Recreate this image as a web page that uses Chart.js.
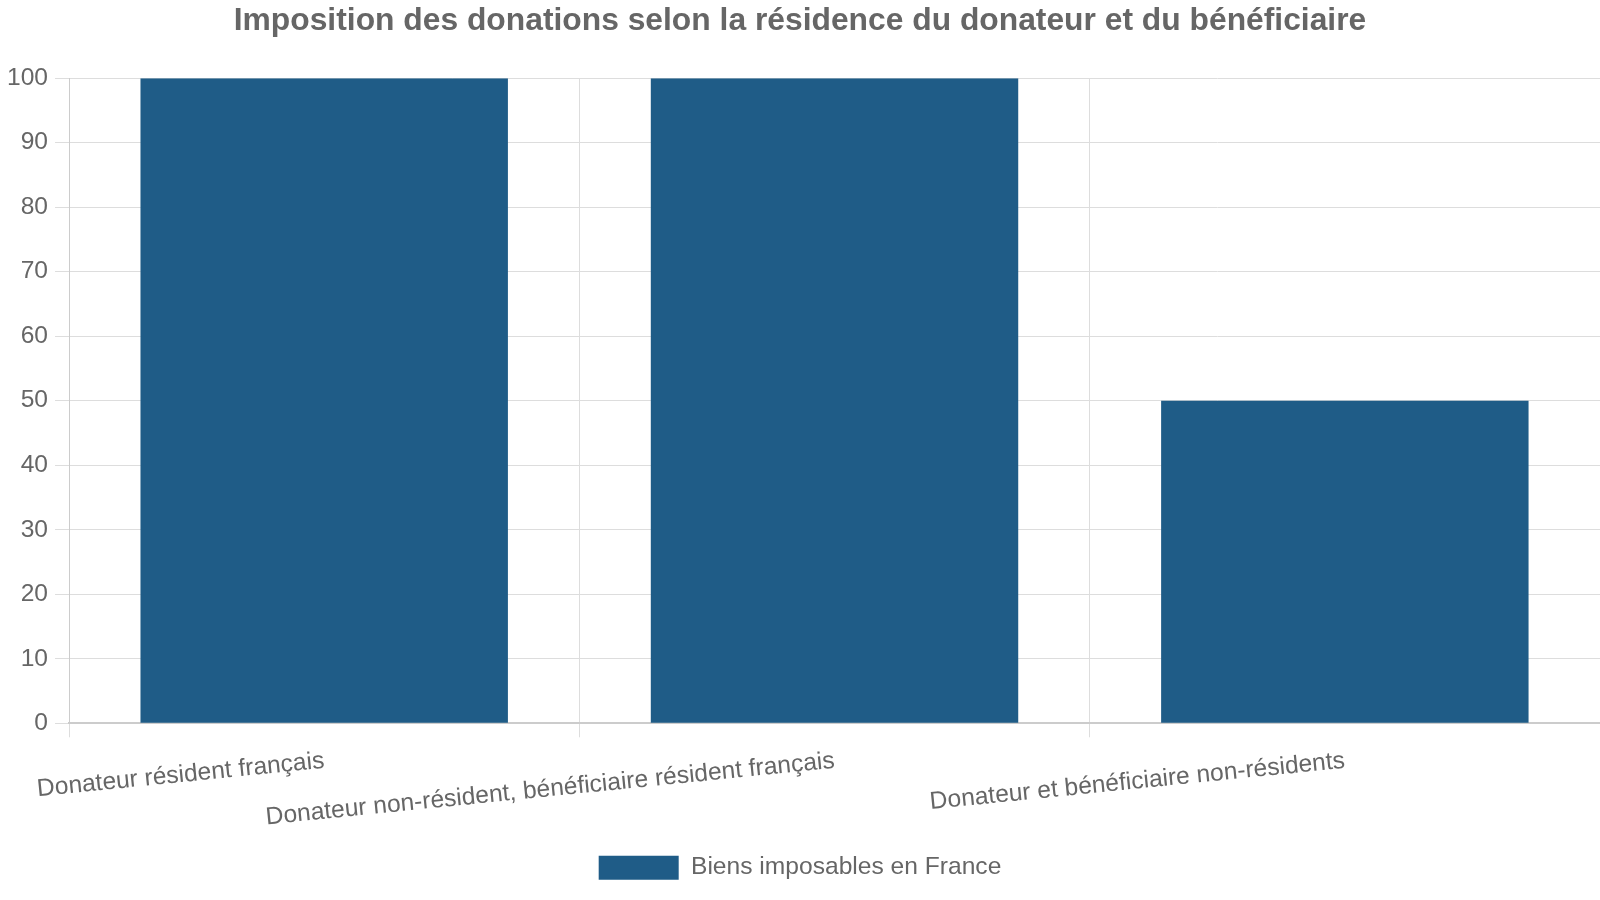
<!DOCTYPE html>
<html>
<head>
<meta charset="utf-8">
<script src="https://cdn.jsdelivr.net/npm/chart.js@4.4.0/dist/chart.umd.min.js"></script>
<style>
  html, body { margin: 0; padding: 0; background: #fff; }
  #wrap { width: 1600px; height: 900px; }
</style>
</head>
<body>
<div id="wrap"><canvas id="chart" width="1600" height="900"></canvas></div>
<script>
const categories = [
    'Donateur résident français',
    'Donateur non-résident, bénéficiaire résident français',
    'Donateur et bénéficiaire non-résidents'
];
const seriesLabel = 'Biens imposables en France';
const taxableShare = [100, 100, 50];
const yTicks = [0, 10, 20, 30, 40, 50, 60, 70, 80, 90, 100];

const textColor = '#666666';
const fontSize = 24.6;

const ctx = document.getElementById('chart').getContext('2d');

const chart = new Chart(ctx, {
    type: 'bar',
    data: {
        labels: categories,
        datasets: [
            {
                label: seriesLabel,
                data: taxableShare,
                backgroundColor: '#1f5c87',
                borderWidth: 0,
            },
        ],
    },
    options: {
        responsive: false,
        animation: false,
        layout: {
            padding: { left: 0, right: 0, top: 0, bottom: 10 },
        },
        plugins: {
            title: {
                display: true,
                text: 'Imposition des donations selon la résidence du donateur et du bénéficiaire',
                color: textColor,
                font: { family: 'Liberation Sans', size: 31.8, weight: 'bold' },
                padding: { top: 2, bottom: 38 },
            },
            legend: {
                display: true,
                position: 'bottom',
                labels: {
                    color: textColor,
                    boxWidth: 80,
                    boxHeight: 24,
                    padding: 12,
                    font: { family: 'Liberation Sans', size: fontSize },
                },
            },
            tooltip: { enabled: false },
        },
        scales: {
            x: {
                grid: {
                    color: '#dddddd',
                    tickLength: 14,
                },
                border: { color: '#cccccc', width: 2 },
                afterFit: axis => {
                    // a little empty room under the rotated labels
                    axis.height += 2;
                },
                ticks: {
                    color: textColor,
                    padding: 9,
                    font: { family: 'Liberation Sans', size: fontSize },
                    minRotation: 5.7,
                    maxRotation: 5.7,
                    autoSkip: false,
                },
            },
            y: {
                min: 0,
                max: 100,
                afterBuildTicks: axis => {
                    axis.ticks = yTicks.map(v => ({ value: v }));
                },
                grid: {
                    color: '#dddddd',
                    tickLength: 14,
                },
                border: { color: '#cccccc' },
                ticks: {
                    color: textColor,
                    padding: 7,
                    font: { family: 'Liberation Sans', size: fontSize },
                },
            },
        },
    },
});
</script>
</body>
</html>
